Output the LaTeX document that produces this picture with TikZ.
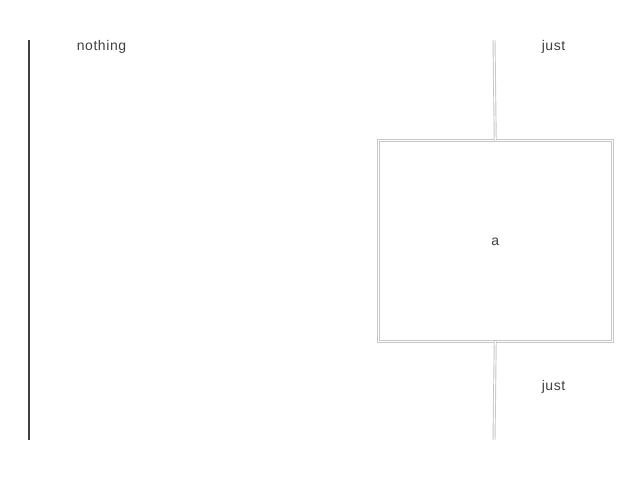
\documentclass[tikz,border=0pt]{standalone}
\usepackage{fontspec}
\setmainfont{Liberation Sans}[LetterSpace=4]
\begin{document}
\begin{tikzpicture}[x=0.75pt,y=-0.75pt,
  lbl/.style={font=\fontsize{10.5}{12}\selectfont, text=black!75, inner sep=0pt},
  dline/.style={draw=black!22, double=white, double distance=0.8pt, line width=0.7pt},
  boxn/.style={minimum width=174.75pt, minimum height=150pt, inner sep=0pt, anchor=north west}]
\useasboundingbox (0,0) rectangle (640,480);
\coordinate (ltop) at (29,40);
\coordinate (lbot) at (29,440);
\draw[black!75, line width=1.5pt] (ltop) -- (lbot);
\node[lbl] (nothing) at (101.5,47) {nothing};
\node[boxn] (a) at (378.5,140.5) {};
\draw[dline] (a.north west) rectangle (a.south east);
\node[lbl] (atext) at ([yshift=-0.75pt]a.center) {a};
\coordinate (ttop) at (494,40);
\coordinate (bbot) at (494,440);
\draw[dline] (ttop) -- (a.north);
\draw[dline] (a.south) -- (bbot);
\node[lbl] (just1) at (553.5,47) {just};
\node[lbl] (just2) at (553.5,387) {just};
\end{tikzpicture}
\end{document}
